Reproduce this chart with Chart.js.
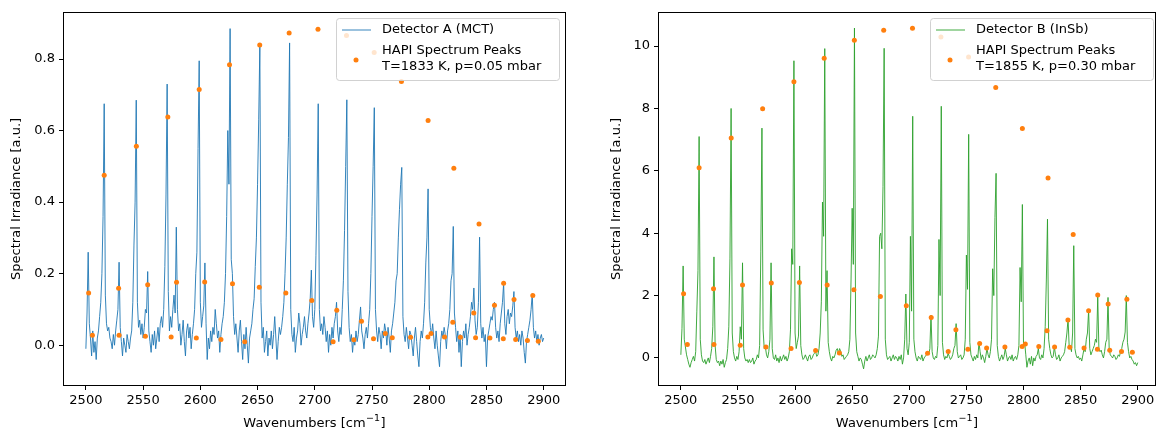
<!DOCTYPE html>
<html>
<head>
<meta charset="utf-8">
<script src="https://cdn.jsdelivr.net/npm/chart.js@4/dist/chart.umd.min.js"></script>
<style>
  body { margin: 0; background: #fff; }
  .panel { position: absolute; top: 0; height: 432px; }
</style>
</head>
<body>
<div class="panel" style="left:0;width:580px"><canvas id="chartA"></canvas></div>
<div class="panel" style="left:580px;width:581px"><canvas id="chartB"></canvas></div>
<script>
// spectra sampled every 1 cm^-1 starting at 2500
const WN_START = 2500;

// Detector A (MCT)
const detectorA = [
  -0.01, 0.09, 0.26, 0.06, 0.02, -0.03, 0.04, -0.02, 0.01, -0.04,   // 2500
  0.02, 0.04, 0.08, 0.12, 0.2, 0.36, 0.675, 0.14, 0.06, 0.04,        // 2510
  0.05, 0.02, 0.01, -0.01, 0.03, 0.0, 0.04, 0.07, 0.1, 0.232,        // 2520
  0.05, 0.01, -0.03, 0.02, 0.0, -0.02, 0.03, 0.01, -0.01, 0.02,      // 2530
  0.04, 0.12, 0.28, 0.4, 0.685, 0.12, 0.05, 0.07, 0.03, 0.06,        // 2540
  0.02, 0.05, 0.1, 0.09, 0.206, 0.04, 0.01, -0.02, 0.03, 0.0,        // 2550
  0.04, -0.01, 0.02, 0.05, 0.01, 0.06, 0.08, 0.05, 0.1, 0.22,        // 2560
  0.42, 0.73, 0.15, 0.04, 0.08, 0.05, 0.1, 0.14, 0.09, 0.33,         // 2570
  0.1, 0.04, 0.06, 0.0, 0.03, 0.07, 0.01, -0.03, 0.04, 0.06,         // 2580
  0.02, 0.05, -0.01, 0.03, 0.06, 0.1, 0.2, 0.26, 0.55, 0.795,        // 2590
  0.12, 0.05, 0.08, 0.11, 0.23, 0.06, -0.04, 0.02, -0.01, 0.04,      // 2600
  0.01, 0.05, 0.03, 0.1, 0.06, 0.02, 0.04, -0.02, 0.03, 0.06,        // 2610
  0.08, 0.12, 0.2, 0.36, 0.6, 0.45, 0.885, 0.24, 0.2, 0.08,          // 2620
  0.03, 0.06, 0.02, -0.02, 0.04, 0.07, 0.01, -0.04, 0.03, -0.01,     // 2630
  0.05, 0.0, -0.05, 0.02, 0.04, 0.06, 0.1, 0.13, 0.22, 0.3,          // 2640
  0.45, 0.63, 0.84, 0.12, 0.02, 0.05, -0.02, 0.01, 0.04, -0.03,      // 2650
  0.02, 0.0, 0.04, -0.01, 0.03, 0.08, 0.02, -0.04, 0.01, 0.05,       // 2660
  0.03, 0.05, 0.08, 0.12, 0.2, 0.3, 0.45, 0.58, 0.845, 0.1,          // 2670
  0.03, 0.01, 0.05, -0.02, 0.02, 0.04, 0.09, 0.06, 0.0, 0.03,        // 2680
  0.05, 0.08, 0.04, 0.02, 0.06, 0.09, 0.13, 0.21, 0.08, 0.05,        // 2690
  0.1, 0.25, 0.42, 0.675, 0.1, 0.04, 0.06, 0.03, 0.08, 0.05,         // 2700
  0.01, 0.04, -0.02, 0.03, 0.0, 0.05, 0.02, 0.06, 0.08, 0.12,        // 2710
  0.04, 0.01, 0.05, 0.03, 0.1, 0.18, 0.32, 0.5, 0.686, 0.15,         // 2720
  0.05, 0.01, 0.03, -0.02, 0.02, 0.0, 0.04, 0.01, 0.03, 0.07,        // 2730
  0.107, 0.04, 0.02, -0.01, 0.03, 0.05, 0.02, 0.06, 0.1, 0.2,        // 2740
  0.36, 0.5, 0.664, 0.1, 0.04, 0.01, 0.05, 0.03, -0.01, 0.04,        // 2750
  0.02, 0.06, 0.04, 0.0, 0.05, 0.02, -0.02, 0.04, 0.06, 0.09,        // 2760
  0.12, 0.18, 0.2, 0.3, 0.38, 0.45, 0.497, 0.08, 0.03, 0.01,         // 2770
  0.05, 0.02, -0.01, 0.04, 0.03, 0.0, -0.03, 0.02, 0.05, 0.01,       // 2780
  -0.03, -0.06, 0.01, 0.04, 0.02, 0.06, 0.12, 0.23, 0.3, 0.437,      // 2790
  0.1, 0.05, 0.03, 0.06, 0.02, -0.01, 0.04, 0.0, -0.03, -0.06,       // 2800
  0.01, 0.04, 0.02, 0.05, 0.03, -0.01, 0.04, 0.06, 0.1, 0.18,        // 2810
  0.2, 0.332, 0.09, 0.05, 0.01, 0.04, -0.02, 0.03, -0.06, 0.01,      // 2820
  0.04, 0.02, 0.06, 0.0, 0.03, 0.05, 0.08, 0.12, 0.1, 0.16,          // 2830
  0.07, 0.03, 0.05, 0.12, 0.302, 0.06, 0.02, 0.05, 0.01, 0.03,       // 2840
  -0.06, 0.02, 0.04, 0.06, 0.08, 0.07, 0.1, 0.12, 0.05, 0.02,        // 2850
  0.04, 0.01, 0.06, 0.09, 0.12, 0.173, 0.06, 0.03, 0.08, 0.1,        // 2860
  0.06, 0.09, 0.08, 0.11, 0.15, 0.05, 0.02, 0.04, 0.01, 0.03,        // 2870
  0.0, 0.04, 0.02, -0.02, -0.05, 0.01, 0.03, 0.05, 0.07, 0.1,        // 2880
  0.144, 0.05, 0.02, 0.04, 0.01, 0.03, 0.0, 0.02, 0.03, 0.01,        // 2890
  0.02                                                               // 2900
];

// Detector B (InSb)
const detectorB = [
  0.1, 0.95, 2.95, 0.6, 0.35, 0.1, -0.05, -0.2, -0.3, -0.15,         // 2500
  -0.05, 0.05, -0.1, 0.2, 1.5, 2.8, 7.1, 0.6, 0.1, -0.1,             // 2510
  -0.15, -0.05, -0.2, -0.1, 0.0, -0.15, 0.05, 0.3, 1.0, 3.24,        // 2520
  0.4, -0.05, -0.15, -0.1, -0.25, -0.1, -0.2, -0.05, -0.3, -0.15,    // 2530
  -0.05, 0.3, 1.0, 3.2, 8.0, 0.8, 0.2, 0.0, -0.1, 0.05,              // 2540
  -0.05, 0.2, 1.0, 0.6, 3.05, 0.3, 0.0, -0.1, -0.05, -0.15,          // 2550
  -0.05, -0.15, -0.1, 0.0, -0.2, -0.1, -0.05, 0.1, 0.0, 0.4,         // 2560
  3.4, 7.37, 0.9, 0.3, 0.35, 0.1, 0.0, 0.2, 0.6, 3.05,               // 2570
  0.3, 0.0, -0.05, 0.1, -0.1, 0.0, -0.15, 0.05, -0.1, 0.0,           // 2580
  0.1, -0.05, 0.05, -0.1, 0.0, 0.2, 0.9, 3.5, 3.0, 9.53,             // 2590
  0.8, 0.3, 0.5, 0.7, 2.95, 0.4, 0.1, -0.05, 0.0, 0.1,               // 2600
  0.0, -0.1, 0.05, 0.1, -0.05, 0.0, 0.1, 0.15, 0.2, 0.05,            // 2610
  0.1, 0.3, 0.8, 1.8, 5.0, 3.9, 9.92, 1.5, 2.8, 0.5,                 // 2620
  0.2, 0.0, -0.1, 0.05, 0.0, 0.1, 0.25, 0.3, 0.15, 0.3,              // 2630
  0.2, 0.05, 0.1, -0.05, 0.0, 0.05, 0.1, 0.2, 0.6, 2.5,              // 2640
  4.8, 3.0, 10.58, 0.8, 0.2, 0.05, -0.1, 0.0, -0.05, -0.2,           // 2650
  -0.35, -0.1, 0.05, -0.1, 0.0, 0.1, -0.05, 0.0, 0.1, 0.05,          // 2660
  0.0, 0.1, 0.3, 0.7, 3.9, 4.0, 3.5, 5.5, 9.93, 0.6,                 // 2670
  0.1, -0.05, 0.0, 0.05, -0.1, 0.0, 0.1, -0.05, 0.05, 0.0,           // 2680
  -0.1, 0.05, -0.05, 0.1, -0.2, 0.0, 0.6, 2.05, 0.3, 0.1,            // 2690
  0.5, 3.9, 1.5, 7.75, 0.6, 0.2, 0.0, -0.1, 0.05, 0.0,               // 2700
  -0.05, 0.1, -0.1, 0.0, 0.05, 0.1, 0.15, 0.1, 0.3, 1.37,            // 2710
  0.2, 0.0, -0.05, 0.05, 0.0, 0.4, 3.8, 2.0, 8.07, 0.5,              // 2720
  0.1, -0.05, 0.05, 0.0, 0.15, 0.05, -0.05, 0.0, 0.1, 0.3,           // 2730
  0.4, 1.1, 0.2, 0.0, 0.05, 0.1, -0.05, 0.0, 0.1, 0.6,               // 2740
  3.3, 2.2, 7.17, 0.5, 0.1, 0.0, -0.1, 0.05, -0.05, 0.1,             // 2750
  0.0, 0.5, 0.2, -0.05, 0.1, 0.0, -0.15, 0.05, 0.3, 0.1,             // 2760
  0.0, 0.2, 0.6, 2.86, 2.0, 4.5, 5.92, 0.4, 0.05, -0.1,              // 2770
  0.0, 0.1, -0.05, 0.05, 0.3, 0.1, -0.1, 0.0, 0.05, -0.05,           // 2780
  0.1, -0.1, 0.0, 0.05, -0.05, 0.1, 0.4, 2.9, 1.8, 4.92,             // 2790
  0.4, 0.5, 0.1, -0.3, -0.1, 0.0, -0.2, 0.05, -0.25, 0.0,            // 2800
  -0.1, 0.05, 0.1, 0.3, 0.0, -0.05, 0.1, 0.0, 0.3, 1.0,              // 2810
  2.5, 4.45, 0.6, 0.3, 0.1, 0.0, 0.05, 0.35, 0.1, -0.05,             // 2820
  0.0, 0.1, -0.1, 0.0, 0.05, 0.1, 0.2, 0.5, 0.8, 1.26,               // 2830
  0.35, 0.4, 0.2, 0.8, 3.6, 0.3, 0.1, 0.0, 0.05, -0.05,              // 2840
  0.0, -0.1, 0.1, 0.3, 0.2, 0.6, 0.8, 1.53, 0.3, 0.1,                // 2850
  0.2, 0.3, 0.4, 0.6, 0.5, 1.96, 0.3, 0.2, 0.25, 0.1,                // 2860
  0.0, 0.2, 0.5, 0.6, 1.94, 0.3, 0.1, 0.05, 0.0, 0.1,                // 2870
  0.05, -0.05, 0.0, 0.1, 0.05, 0.2, 0.3, 0.5, 0.6, 0.83,             // 2880
  2.0, 0.5, 0.2, 0.0, 0.05, -0.05, -0.1, -0.2, -0.15, -0.25,         // 2890
  -0.15                                                              // 2900
];

// HAPI simulated line positions and heights for each panel
const peakWavenumbers = [
  2502.4, 2505.7, 2516.0, 2528.6, 2529.0, 2544.1, 2552.0, 2554.0, 2571.6, 2574.5,
  2579.2, 2596.5, 2599.0, 2603.8, 2618.0, 2625.5, 2628.1, 2638.8, 2651.5, 2651.9,
  2674.7, 2677.6, 2697.4, 2702.8, 2716.0, 2719.2, 2727.7, 2734.1, 2740.8, 2751.3,
  2751.9, 2761.6, 2767.7, 2775.7, 2783.7, 2798.8, 2799.0, 2801.6, 2813.4, 2820.6,
  2821.5, 2827.2, 2838.9, 2840.5, 2843.5, 2853.0, 2857.0, 2864.7, 2865.0, 2874.1,
  2875.5, 2885.8, 2890.5, 2895.3
];
const peakHeightsA = [
  0.146, 0.028, 0.475, 0.159, 0.028, 0.556, 0.025, 0.169, 0.638, 0.023,
  0.176, 0.020, 0.715, 0.177, 0.016, 0.784, 0.172, 0.010, 0.162, 0.839,
  0.146, 0.873, 0.125, 0.883, 0.010, 0.098, 0.866, 0.015, 0.067, 0.018,
  0.818, 0.033, 0.021, 0.737, 0.022, 0.023, 0.628, 0.033, 0.023, 0.064,
  0.495, 0.022, 0.090, 0.021, 0.339, 0.020, 0.112, 0.018, 0.173, 0.128,
  0.016, 0.013, 0.139, 0.011
];
const peakHeightsB = [
  2.06, 0.43, 6.10, 2.22, 0.43, 7.05, 0.41, 2.34, 7.99, 0.35,
  2.40, 0.30, 8.86, 2.42, 0.24, 9.61, 2.34, 0.16, 2.19, 10.19,
  1.97, 10.51, 1.67, 10.57, 0.15, 1.30, 10.29, 0.21, 0.90, 0.28,
  9.65, 0.46, 0.32, 8.67, 0.35, 0.37, 7.36, 0.45, 0.37, 0.87,
  5.77, 0.35, 1.22, 0.34, 3.96, 0.32, 1.51, 0.28, 2.02, 1.73,
  0.25, 0.21, 1.88, 0.18
];

const xTicks = [2500, 2550, 2600, 2650, 2700, 2750, 2800, 2850, 2900];
const yTicksA = [0.0, 0.2, 0.4, 0.6, 0.8];
const yTicksB = [0, 2, 4, 6, 8, 10];

const FONT = "'DejaVu Sans', sans-serif";
const BLUE = '#1f77b4', GREEN = '#2ca02c', ORANGE = '#ff7f0e';

// box around the plot area, like matplotlib spines
const framePlugin = {
  id: 'frame',
  afterDatasetsDraw(chart) {
    const a = chart.chartArea, ctx = chart.ctx;
    ctx.save();
    ctx.strokeStyle = '#000';
    ctx.lineWidth = 1;
    ctx.strokeRect(Math.round(a.left) + 0.5, Math.round(a.top) + 0.5,
      Math.round(a.right - a.left) - 1, Math.round(a.bottom - a.top) - 1);
    ctx.restore();
  }
};

// x axis title with a real superscript, the way mathtext sets cm^-1
const xTitlePlugin = {
  id: 'xTitle',
  afterDraw(chart) {
    const ctx = chart.ctx, a = chart.chartArea;
    const main = 'Wavenumbers [cm', sup = '\u22121', tail = ']';
    ctx.save();
    ctx.fillStyle = '#000';
    ctx.textBaseline = 'alphabetic';
    ctx.textAlign = 'left';
    ctx.font = '13px ' + FONT;
    const w1 = ctx.measureText(main).width, w3 = ctx.measureText(tail).width;
    ctx.font = '9.5px ' + FONT;
    const w2 = ctx.measureText(sup).width;
    let x = (a.left + a.right) / 2 - (w1 + w2 + w3 + 1) / 2;
    const base = 427;
    ctx.font = '13px ' + FONT;
    ctx.fillText(main, x, base);
    x += w1 + 0.5;
    ctx.font = '9.5px ' + FONT;
    ctx.fillText(sup, x, base - 6);
    x += w2 + 0.5;
    ctx.font = '13px ' + FONT;
    ctx.fillText(tail, x, base);
    ctx.restore();
  }
};

// matplotlib style legend box drawn on top of everything
const boxLegend = {
  id: 'boxLegend',
  afterDraw(chart, args, o) {
    const ctx = chart.ctx;
    const x = o.x, y = o.y, w = o.w, h = 62;
    ctx.save();
    ctx.beginPath();
    ctx.roundRect(x + 0.5, y + 0.5, w, h, 3);
    ctx.fillStyle = 'rgba(255,255,255,0.8)';
    ctx.fill();
    ctx.strokeStyle = 'rgba(204,204,204,0.9)';
    ctx.lineWidth = 1;
    ctx.stroke();

    ctx.strokeStyle = o.lineColor;
    ctx.globalAlpha = 0.6;
    ctx.lineWidth = 1.5;
    ctx.beginPath();
    ctx.moveTo(x + 6, y + 12);
    ctx.lineTo(x + 35, y + 12);
    ctx.stroke();
    ctx.globalAlpha = 1;

    ctx.fillStyle = ORANGE;
    ctx.beginPath();
    ctx.arc(x + 20, y + 42, 2.5, 0, Math.PI * 2);
    ctx.fill();

    ctx.fillStyle = '#000';
    ctx.font = '13px ' + FONT;
    ctx.textBaseline = 'middle';
    ctx.textAlign = 'left';
    ctx.fillText(o.labels[0], x + 46, y + 12);
    ctx.fillText(o.labels[1], x + 46, y + 32.5);
    ctx.fillText(o.labels[2], x + 46, y + 48.5);
    ctx.restore();
  }
};

function makeChart(id, p) {
  const spectrum = p.values.map((v, i) => ({ x: WN_START + i, y: v }));
  const peaks = peakWavenumbers.map((wn, i) => ({ x: wn, y: p.peaks[i] }));
  return new Chart(document.getElementById(id), {
    type: 'line',
    data: {
      datasets: [
        {
          data: peaks,
          showLine: false,
          pointRadius: 2.5,
          pointBorderWidth: 0,
          pointBackgroundColor: ORANGE,
          order: 0
        },
        {
          data: spectrum,
          borderColor: p.color,
          borderWidth: 0.9,
          pointRadius: 0,
          tension: 0,
          order: 1
        }
      ]
    },
    options: {
      responsive: true,
      maintainAspectRatio: false,
      animation: false,
      events: [],
      layout: { padding: { top: 11, right: p.padRight, left: 0, bottom: 0 } },
      plugins: {
        legend: { display: false },
        tooltip: { enabled: false },
        boxLegend: p.legend
      },
      scales: {
        x: {
          type: 'linear',
          min: 2480,
          max: p.xMax,
          afterFit: (s) => { s.height = 46; },
          afterBuildTicks: (s) => { s.ticks = xTicks.map(v => ({ value: v })); },
          border: { display: false },
          grid: { drawOnChartArea: false, drawTicks: true, tickLength: 4, color: '#000' },
          ticks: { color: '#000', font: { family: FONT, size: 13 }, padding: 3, maxRotation: 0,
                   callback: (v) => String(v) },
          title: { display: false }
        },
        y: {
          min: p.yMin,
          max: p.yMax,
          afterFit: (s) => { s.width = p.yWidth; },
          afterBuildTicks: (s) => { s.ticks = p.yTicks.map(v => ({ value: v })); },
          border: { display: false },
          grid: { drawOnChartArea: false, drawTicks: true, tickLength: 4, color: '#000' },
          ticks: { color: '#000', font: { family: FONT, size: 13 }, padding: 4,
                   callback: p.tickFormat },
          title: { display: true, text: 'Spectral Irradiance [a.u.]', color: '#000',
                   font: { family: FONT, size: 13 }, padding: { top: p.titlePad, bottom: 0 } }
        }
      }
    },
    plugins: [framePlugin, xTitlePlugin, boxLegend]
  });
}

makeChart('chartA', {
  values: detectorA,
  peaks: peakHeightsA,
  color: BLUE,
  xMax: 2919.5,
  yMin: -0.114,
  yMax: 0.932,
  yTicks: yTicksA,
  yWidth: 63,
  padRight: 14,
  titlePad: 9,
  tickFormat: (v) => v.toFixed(1),
  legend: { x: 336, y: 18, w: 223, lineColor: BLUE,
            labels: ['Detector A (MCT)', 'HAPI Spectrum Peaks', 'T=1833 K, p=0.05 mbar'] }
});

makeChart('chartB', {
  values: detectorB,
  peaks: peakHeightsB,
  color: GREEN,
  xMax: 2916,
  yMin: -0.9,
  yMax: 11.1,
  yTicks: yTicksB,
  yWidth: 78,
  padRight: 5,
  titlePad: 29,
  tickFormat: (v) => String(v),
  legend: { x: 350, y: 18, w: 223, lineColor: GREEN,
            labels: ['Detector B (InSb)', 'HAPI Spectrum Peaks', 'T=1855 K, p=0.30 mbar'] }
});
</script>
</body>
</html>
